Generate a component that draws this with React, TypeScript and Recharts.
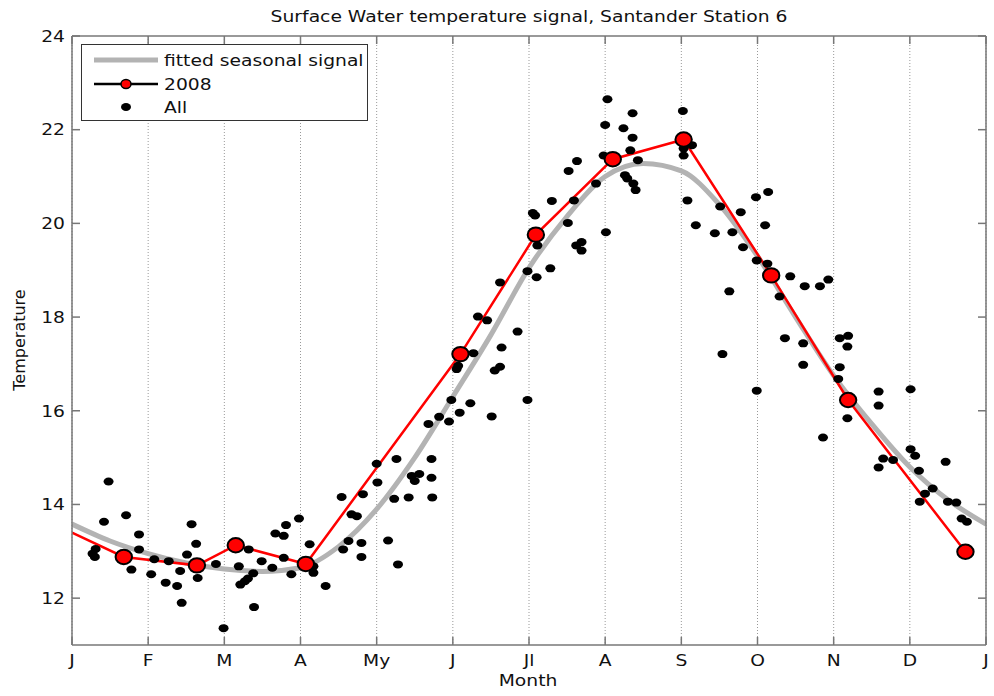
import { ComposedChart, Line, Scatter, XAxis, YAxis, CartesianGrid, Legend } from 'recharts';

// month axis (0 = 1 Jan, 12 = next 1 Jan)
const monthTicks = [0, 1, 2, 3, 4, 5, 6, 7, 8, 9, 10, 11, 12];
const monthLabels = ['J', 'F', 'M', 'A', 'My', 'J', 'Jl', 'A', 'S', 'O', 'N', 'D', 'J'];
const tempTicks = [12, 14, 16, 18, 20, 22, 24];

// fitted seasonal signal
const fitMonth = [0, 0.5, 1, 1.5, 2, 2.5, 3, 3.5, 4, 4.5, 5, 5.5, 6, 6.5, 7, 7.5, 8, 8.5, 9, 9.5, 10, 10.5, 11, 11.5, 12];
const fitTemp = [13.58, 13.22, 12.95, 12.75, 12.62, 12.57, 12.65, 13.1, 13.9, 15.0, 16.3, 17.62, 19.05, 20.15, 21.0, 21.28, 21.12, 20.4, 19.3, 18.0, 16.75, 15.72, 14.8, 14.1, 13.58];

// 2008 observations
const month2008 = [0, 0.68, 1.64, 2.15, 3.07, 5.1, 6.09, 7.1, 8.03, 9.18, 10.19, 11.73];
const temp2008 = [13.4, 12.88, 12.7, 13.13, 12.73, 17.21, 19.76, 21.37, 21.79, 18.89, 16.23, 12.99];

// all years
const allMonth = [
  0.48, 0.42, 0.71, 0.88, 0.88, 0.27, 0.31, 0.3, 0.78, 1.04, 1.08, 1.27, 1.23, 1.38, 1.44, 1.42, 1.51, 1.57, 1.63, 1.65,
  1.89, 1.99, 2.19, 2.32, 2.21, 2.27, 2.31, 2.38, 2.39, 2.49, 2.63, 2.67, 2.78, 2.81, 2.78, 2.88, 2.98, 3.12, 3.17, 3.17,
  3.33, 3.56, 3.63, 3.67, 3.74, 3.8, 3.8, 4.15, 4.28, 3.54, 3.82, 4.0, 4.01, 4.23, 4.26, 4.42, 4.46, 4.5, 4.56, 4.72,
  4.72, 4.73, 4.68, 4.82, 4.95, 4.98, 5.09, 5.23, 5.51, 5.05, 5.07, 5.27, 5.33, 5.45, 5.55, 5.62, 5.64, 5.62, 5.85, 5.98,
  5.98, 6.1, 6.28, 6.11, 6.05, 6.08, 6.3, 6.51, 6.59, 6.62, 6.69, 6.69, 6.52, 6.63, 6.88, 7.01, 7.0, 7.03, 6.98, 7.24,
  7.36, 7.36, 7.33, 7.43, 7.26, 7.29, 7.37, 7.4, 8.02, 8.03, 8.03, 8.14, 8.08, 8.19, 8.44, 8.51, 8.63, 8.54, 8.67, 8.78,
  8.81, 8.98, 8.99, 8.99, 9.14, 9.1, 9.13, 9.43, 9.62, 9.82, 9.93, 9.29, 9.36, 9.6, 9.6, 9.86, 10.08, 10.19, 10.18, 10.08,
  10.06, 10.18, 10.59, 10.59, 11.01, 10.59, 10.65, 10.78, 11.01, 11.07, 11.12, 11.47, 11.3, 11.2, 11.13, 11.5, 11.61, 11.68, 11.75,
];
const allTemp = [
  14.49, 13.63, 13.77, 13.36, 13.04, 12.95, 13.05, 12.88, 12.61, 12.51, 12.83, 12.79, 12.33, 12.26, 11.9, 12.58, 12.93, 13.58, 13.16, 12.43,
  12.73, 11.36, 12.68, 13.04, 12.29, 12.36, 12.42, 12.53, 11.81, 12.79, 12.65, 13.38, 13.33, 13.56, 12.86, 12.51, 13.7, 13.15, 12.68, 12.54,
  12.26, 13.04, 13.22, 13.79, 13.75, 13.18, 12.88, 13.23, 12.72, 14.16, 14.22, 14.87, 14.47, 14.12, 14.97, 14.15, 14.61, 14.5, 14.65, 14.97,
  14.57, 14.15, 15.72, 15.87, 15.77, 16.23, 15.96, 16.16, 15.88, 16.89, 16.96, 17.23, 18.01, 17.93, 16.86, 16.94, 17.35, 18.74, 17.69, 16.23,
  18.98, 18.85, 19.04, 19.53, 20.22, 20.17, 20.48, 20.01, 20.49, 19.53, 19.6, 19.42, 21.12, 21.33, 20.85, 19.81, 22.1, 22.65, 21.45, 22.03,
  22.35, 21.83, 21.56, 21.35, 21.03, 20.96, 20.85, 20.71, 22.4, 21.6, 21.45, 21.67, 20.49, 19.96, 19.79, 20.36, 18.55, 17.21, 19.81, 20.24,
  19.49, 20.56, 19.21, 16.43, 20.67, 19.96, 19.14, 18.87, 18.66, 18.66, 18.8, 18.44, 17.55, 17.44, 16.98, 15.43, 17.55, 17.6, 17.37, 16.93,
  16.68, 15.84, 16.41, 16.11, 16.46, 14.79, 14.98, 14.95, 15.18, 15.04, 14.72, 14.91, 14.34, 14.23, 14.06, 14.06, 14.04, 13.7, 13.63,
];

const fitData = fitMonth.map((m, i) => ({ month: m, temp: fitTemp[i] }));
const data2008 = month2008.map((m, i) => ({ month: m, temp: temp2008[i] }));
const allData = allMonth.map((m, i) => ({ month: m, temp: allTemp[i] }));

const FONT = '"DejaVu Sans", sans-serif';
const AXIS = '#777';
const TICK = 8;
const STRETCH = 1.17; // the original figure is stretched sideways

// svg text squeezed out horizontally around its anchor
function WideText({ x, y, anchor = 'start', children }: any) {
  return (
    <text
      transform={`translate(${x} ${y}) scale(${STRETCH} 1)`}
      dy="0.36em"
      textAnchor={anchor}
      fontSize={16}
      fontFamily={FONT}
      fill="#111"
    >
      {children}
    </text>
  );
}

function BottomTick(props: any) {
  const { x, y, payload } = props;
  const label = monthLabels[monthTicks.indexOf(payload.value)];
  return (
    <g>
      <line x1={x} x2={x} y1={y - 15} y2={y - 15 - TICK} stroke={AXIS} strokeWidth={1.5} />
      <WideText x={x} y={y} anchor="middle">{label}</WideText>
    </g>
  );
}

function LeftTick(props: any) {
  const { x, y, payload } = props;
  return (
    <g>
      <line x1={x + 7} x2={x + 7 + TICK} y1={y} y2={y} stroke={AXIS} strokeWidth={1.5} />
      <WideText x={x} y={y} anchor="end">{payload.value}</WideText>
    </g>
  );
}

function TopTick(props: any) {
  const { x, y } = props;
  return <line x1={x} x2={x} y1={y} y2={y + TICK} stroke={AXIS} strokeWidth={1.5} />;
}

function RightTick(props: any) {
  const { x, y } = props;
  return <line x1={x} x2={x - TICK} y1={y} y2={y} stroke={AXIS} strokeWidth={1.5} />;
}

function RedDot(props: any) {
  const { cx, cy, index } = props;
  if (index === 0) return <g key={`d${index}`} />;
  return <ellipse key={`d${index}`} cx={cx} cy={cy} rx={8.2} ry={7.2} fill="#ff0000" stroke="#000" strokeWidth={2} />;
}

function BlackDot(props: any) {
  const { cx, cy } = props;
  return <ellipse cx={cx} cy={cy} rx={5} ry={4} fill="#000" />;
}

function LegendBox() {
  return (
    <div style={{ width: 287, height: 77, border: '1px solid #333', background: '#fff', boxSizing: 'border-box' }}>
      <svg width={287} height={77} style={{ display: 'block' }}>
        <line x1={12} x2={76} y1={15} y2={15} stroke="#b3b3b3" strokeWidth={5} />
        <line x1={12} x2={76} y1={39} y2={39} stroke="#000" strokeWidth={2.5} />
        <ellipse cx={44} cy={39} rx={5} ry={4.5} fill="#ff0000" stroke="#000" strokeWidth={1.5} />
        <ellipse cx={44} cy={62} rx={5} ry={4} fill="#000" />
        <WideText x={82} y={15}>fitted seasonal signal</WideText>
        <WideText x={82} y={39}>2008</WideText>
        <WideText x={82} y={62}>All</WideText>
      </svg>
    </div>
  );
}

export default function App() {
  return (
    <div style={{ position: 'absolute', left: 0, top: 0, width: 994, height: 696, background: '#fff', fontFamily: FONT }}>
      <div
        style={{
          position: 'absolute',
          left: 0,
          width: 1058,
          top: 7,
          lineHeight: '20px',
          fontSize: 16,
          textAlign: 'center',
          color: '#111',
          transform: `scaleX(${STRETCH})`,
          transformOrigin: '529px 0',
        }}
      >
        Surface Water temperature signal, Santander Station 6
      </div>
      <div
        style={{
          position: 'absolute',
          left: 0,
          width: 1056,
          top: 671,
          lineHeight: '20px',
          fontSize: 16,
          textAlign: 'center',
          color: '#111',
          transform: `scaleX(${STRETCH})`,
          transformOrigin: '528px 0',
        }}
      >
        Month
      </div>
      <div
        style={{
          position: 'absolute',
          left: 20,
          top: 340,
          transform: 'translate(-50%, -50%) rotate(-90deg)',
          fontSize: 16,
          lineHeight: '20px',
          whiteSpace: 'nowrap',
          color: '#111',
        }}
      >
        Temperature
      </div>
      <ComposedChart width={994} height={696} margin={{ top: 35, right: 7, bottom: 21, left: 12 }}>
        <CartesianGrid horizontal={false} stroke="#999" strokeDasharray="1 2" />
        <XAxis
          dataKey="month"
          type="number"
          domain={[0, 12]}
          ticks={monthTicks}
          allowDataOverflow
          height={30}
          tickLine={false}
          tickSize={0}
          tickMargin={15}
          tick={<BottomTick />}
          axisLine={{ stroke: AXIS, strokeWidth: 1.5 }}
        />
        <XAxis
          xAxisId="top"
          orientation="top"
          dataKey="month"
          type="number"
          domain={[0, 12]}
          ticks={monthTicks}
          allowDataOverflow
          height={1}
          tickLine={false}
          tickSize={0}
          tickMargin={0}
          tick={<TopTick />}
          axisLine={{ stroke: AXIS, strokeWidth: 1.5 }}
        />
        <YAxis
          type="number"
          domain={[11, 24]}
          ticks={tempTicks}
          allowDataOverflow
          width={60}
          tickLine={false}
          tickSize={0}
          tickMargin={7}
          tick={<LeftTick />}
          axisLine={{ stroke: AXIS, strokeWidth: 1.5 }}
        />
        <YAxis
          yAxisId="right"
          orientation="right"
          type="number"
          domain={[11, 24]}
          ticks={tempTicks}
          allowDataOverflow
          width={1}
          tickLine={false}
          tickSize={0}
          tickMargin={0}
          tick={<RightTick />}
          axisLine={{ stroke: AXIS, strokeWidth: 1.5 }}
        />
        <Legend
          layout="horizontal"
          verticalAlign="middle"
          align="center"
          wrapperStyle={{ left: 81, top: 44, width: 287, height: 77 }}
          content={() => <LegendBox />}
        />
        <Line
          data={fitData}
          dataKey="temp"
          type="monotone"
          stroke="#b3b3b3"
          strokeWidth={5}
          dot={false}
          activeDot={false}
          isAnimationActive={false}
        />
        <Scatter data={allData} dataKey="temp" shape={BlackDot} isAnimationActive={false} />
        <Line
          data={data2008}
          dataKey="temp"
          type="linear"
          stroke="#ff0000"
          strokeWidth={2.5}
          dot={RedDot}
          activeDot={false}
          isAnimationActive={false}
        />
      </ComposedChart>
    </div>
  );
}
